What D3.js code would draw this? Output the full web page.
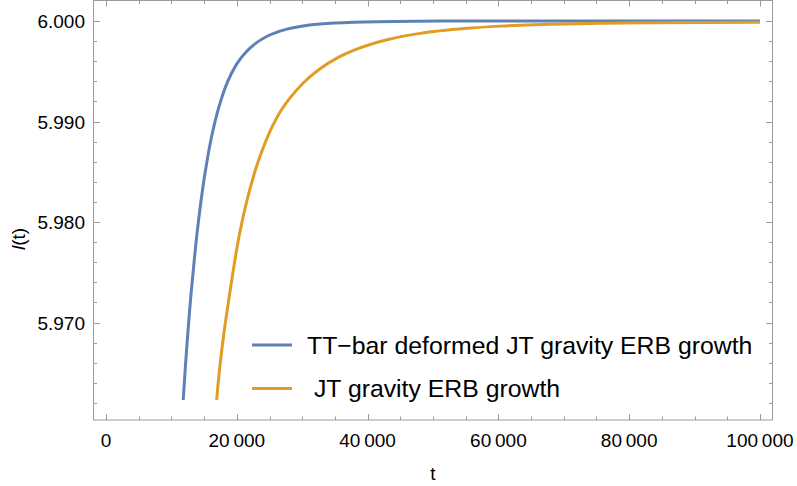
<!DOCTYPE html>
<html>
<head>
<meta charset="utf-8">
<script src="https://cdn.jsdelivr.net/npm/d3@7"></script>
<style>
  body { margin: 0; background: #fff; }
  svg text { font-family: "Liberation Sans", Arial, sans-serif; fill: #000; }
</style>
</head>
<body>
<svg id="chart" width="797" height="486"></svg>
<script>
// values
var ttbarT = [11800, 12130, 12500, 12910, 13390, 13910, 14540, 15210, 16130, 17340, 18560, 19970, 21340, 22870, 24630, 27390, 29680, 32740, 37790, 48040, 60280, 100000];
var ttbarL = [5.96229, 5.96560, 5.96893, 5.97224, 5.97555, 5.97888, 5.98219, 5.98517, 5.98849, 5.99164, 5.99393, 5.99572, 5.99688, 5.99778, 5.99849, 5.99915, 5.99947, 5.99971, 5.99989, 5.99999, 6.00000, 6.00000];

var jtT = [16910, 17400, 18020, 18760, 19540, 20430, 21570, 23060, 25020, 26880, 30190, 32740, 35300, 37840, 42950, 48040, 55190, 60280, 65330, 70490, 75580, 83230, 100000];
var jtL = [5.96230, 5.96561, 5.96894, 5.97225, 5.97556, 5.97889, 5.98220, 5.98562, 5.98895, 5.99123, 5.99386, 5.99526, 5.99631, 5.99709, 5.99814, 5.99878, 5.99928, 5.99950, 5.99964, 5.99972, 5.99978, 5.99984, 5.99988];

var seriesNames = ["TT\u2212bar deformed JT gravity ERB growth", " JT gravity ERB growth"];
var seriesColors = ["#5e81b5", "#e19c24"];

var xMajor = [0, 20000, 40000, 60000, 80000, 100000];
var yMajor = [5.970, 5.980, 5.990, 6.000];

var svg = d3.select("#chart");
var frame = {left: 93, right: 773, top: 0.5, bottom: 420};

var x = d3.scaleLinear().domain([-2000, 102000]).range([frame.left, frame.right]);
var y = d3.scaleLinear().domain([5.9603, 6.0021]).range([frame.bottom, 0]);

var frameColor = "#9a9a9a";

var xMinor = d3.range(0, 100001, 5000).filter(function(d) { return xMajor.indexOf(d) < 0; });
var yMinor = d3.range(5.962, 6.0011, 0.002).filter(function(d) {
  return yMajor.every(function(m) { return Math.abs(m - d) > 1e-6; });
});

function tFormat(d) {
  return d === 0 ? "0" : d3.format(",")(d).replace(/,/g, "\u2009");
}

// frame ticks on all four sides
var gAx = svg.append("g").attr("stroke", frameColor).attr("stroke-width", 1);

xMajor.forEach(function(d) {
  var px = Math.round(x(d)) + 0.5;
  gAx.append("line").attr("x1", px).attr("x2", px).attr("y1", frame.bottom).attr("y2", frame.bottom - 6);
  gAx.append("line").attr("x1", px).attr("x2", px).attr("y1", frame.top).attr("y2", frame.top + 6);
});
xMinor.forEach(function(d) {
  var px = Math.round(x(d)) + 0.5;
  gAx.append("line").attr("x1", px).attr("x2", px).attr("y1", frame.bottom).attr("y2", frame.bottom - 3.5);
  gAx.append("line").attr("x1", px).attr("x2", px).attr("y1", frame.top).attr("y2", frame.top + 3.5);
});
yMajor.forEach(function(d) {
  var py = Math.round(y(d)) + 0.5;
  gAx.append("line").attr("x1", frame.left).attr("x2", frame.left + 7).attr("y1", py).attr("y2", py);
  gAx.append("line").attr("x1", frame.right).attr("x2", frame.right - 7).attr("y1", py).attr("y2", py);
});
yMinor.forEach(function(d) {
  var py = Math.round(y(d)) + 0.5;
  gAx.append("line").attr("x1", frame.left).attr("x2", frame.left + 4).attr("y1", py).attr("y2", py);
  gAx.append("line").attr("x1", frame.right).attr("x2", frame.right - 4).attr("y1", py).attr("y2", py);
});

gAx.append("rect")
  .attr("x", frame.left + 0.5).attr("y", frame.top)
  .attr("width", frame.right - frame.left - 1).attr("height", frame.bottom - frame.top)
  .attr("fill", "none");

// tick labels
svg.append("g").selectAll("text")
  .data(xMajor).enter().append("text")
  .attr("x", function(d) { return x(d); })
  .attr("y", 447)
  .attr("text-anchor", "middle")
  .style("font-size", "19px")
  .text(tFormat);

svg.append("g").selectAll("text")
  .data(yMajor).enter().append("text")
  .attr("x", 85)
  .attr("y", function(d) { return y(d) + 7; })
  .attr("text-anchor", "end")
  .style("font-size", "19px")
  .text(function(d) { return d3.format(".3f")(d); });

// axis labels
svg.append("text")
  .attr("x", 433).attr("y", 480)
  .attr("text-anchor", "middle")
  .style("font-size", "19px")
  .text("t");

var yl = svg.append("text")
  .attr("transform", "translate(25,239) rotate(-90)")
  .attr("text-anchor", "middle")
  .style("font-size", "19px");
yl.append("tspan").style("font-style", "italic").text("l");
yl.append("tspan").text("(t)");

// curves
var line = d3.line()
  .x(function(d) { return x(d[0]); })
  .y(function(d) { return y(d[1]); })
  .curve(d3.curveCatmullRom.alpha(0.5));

var series = [d3.zip(ttbarT, ttbarL), d3.zip(jtT, jtL)];

svg.append("g").selectAll("path")
  .data(series).enter().append("path")
  .attr("d", line)
  .attr("fill", "none")
  .attr("stroke", function(d, i) { return seriesColors[i]; })
  .attr("stroke-width", 3);

// legend
var legend = svg.append("g");
seriesNames.forEach(function(name, i) {
  var ly = 345 + i * 43.5;
  legend.append("line")
    .attr("x1", 252).attr("x2", 292)
    .attr("y1", ly).attr("y2", ly)
    .attr("stroke", seriesColors[i])
    .attr("stroke-width", 3);
  legend.append("text")
    .attr("x", 307).attr("y", ly + 8.5)
    .style("font-size", "24.8px")
    .style("white-space", "pre")
    .attr("xml:space", "preserve")
    .text(name);
});
</script>
</body>
</html>
